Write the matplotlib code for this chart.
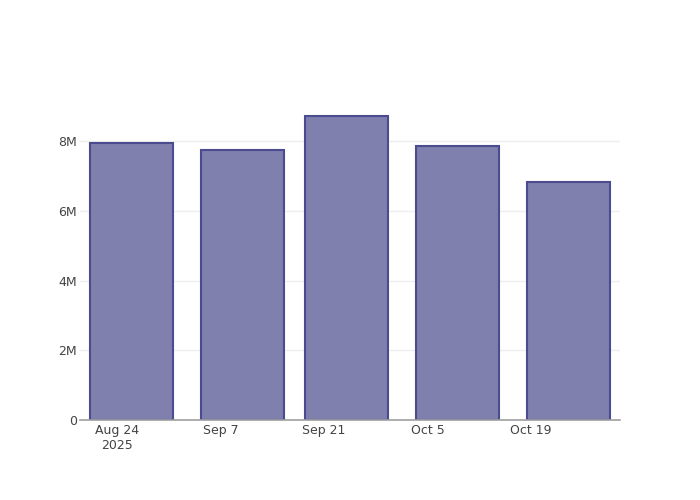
import matplotlib
matplotlib.use("Agg")
import matplotlib.pyplot as plt
from datetime import datetime, timedelta

plt.rcParams['font.family'] = ['DejaVu Sans']

# bar dates and values
dates = [datetime(2025, 8, 26), datetime(2025, 9, 10), datetime(2025, 9, 24),
         datetime(2025, 10, 9), datetime(2025, 10, 24)]
values = [7.96e6, 7.75e6, 8.72e6, 7.86e6, 6.83e6]

y_ticks = [0, 2e6, 4e6, 6e6, 8e6]
y_tick_labels = ['0', '2M', '4M', '6M', '8M']
x_ticks = [datetime(2025, 8, 24), datetime(2025, 9, 7), datetime(2025, 9, 21),
           datetime(2025, 10, 5), datetime(2025, 10, 19)]
x_tick_labels = ['Aug 24\n2025', 'Sep 7', 'Sep 21', 'Oct 5', 'Oct 19']

fig = plt.figure(figsize=(7, 5), dpi=100)
ax = fig.add_axes([80 / 700, 80 / 500, 540 / 700, 320 / 500])

bar_width = timedelta(days=14 * 0.8)
ax.bar(dates, values, width=bar_width, color='#7f80ae',
       edgecolor='#4b4b8f', linewidth=1.5, zorder=3)

ax.set_xlim(datetime(2025, 8, 19), datetime(2025, 10, 31))
ax.set_ylim(0, 9.18e6)

ax.set_yticks(y_ticks)
ax.set_yticklabels(y_tick_labels)
ax.set_xticks(x_ticks)
ax.set_xticklabels(x_tick_labels, linespacing=1.15)

ax.grid(axis='y', color='#eeeeee', linewidth=1, zorder=0)
ax.tick_params(axis='both', length=0, labelsize=9, colors='#444444')
ax.tick_params(axis='y', pad=2)
ax.tick_params(axis='x', pad=3)

for side in ['top', 'right', 'left']:
    ax.spines[side].set_visible(False)
ax.spines['bottom'].set_color('#a0a0a0')
ax.spines['bottom'].set_linewidth(1.2)
ax.spines['bottom'].set_zorder(4)

fig.savefig('out.png', dpi=100)
